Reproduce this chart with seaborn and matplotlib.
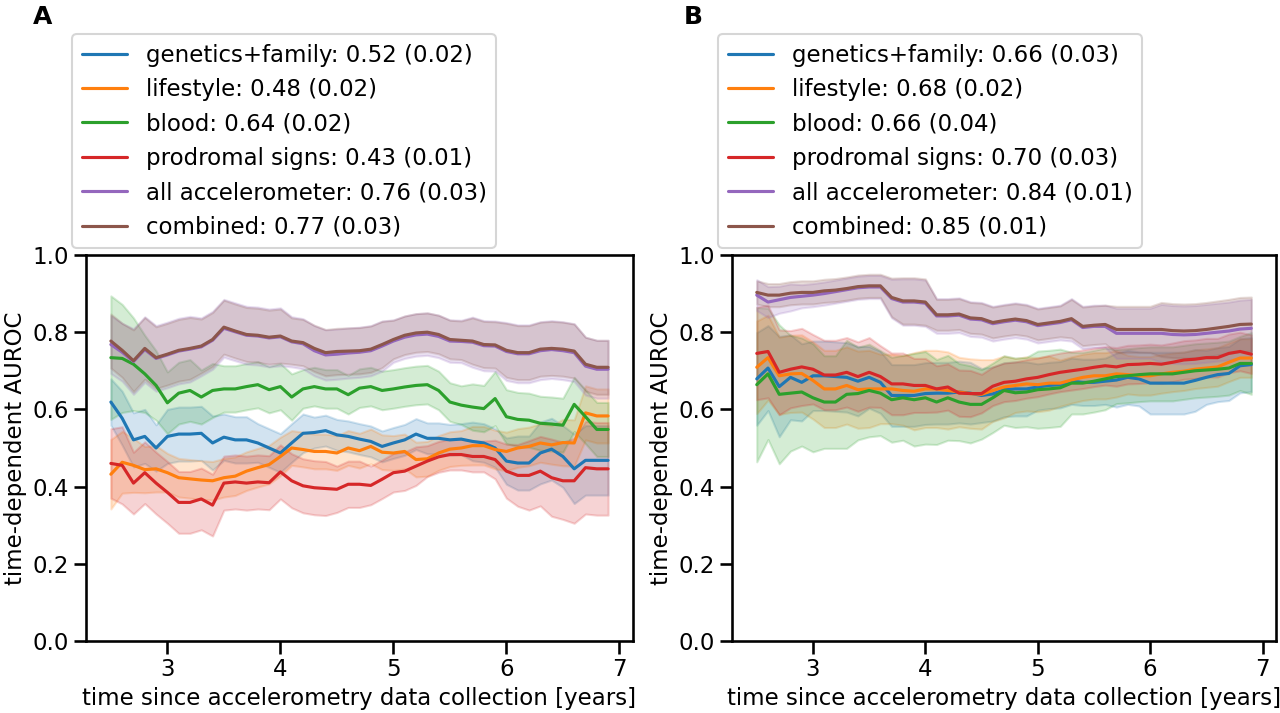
"""
Time-dependent AUROC curves for two prediction tasks (panels A and B)
"""

import numpy as np
import pandas as pd
import matplotlib
matplotlib.use("Agg")
import matplotlib.pyplot as plt
import seaborn as sns

# %% data

years = np.round(np.arange(2.5, 6.95, 0.1), 1)

names = ["genetics+family", "lifestyle", "blood", "prodromal signs",
         "all accelerometer", "combined"]
scores_a = ["0.52 (0.02)", "0.48 (0.02)", "0.64 (0.02)", "0.43 (0.01)",
            "0.76 (0.03)", "0.77 (0.03)"]
scores_b = ["0.66 (0.03)", "0.68 (0.02)", "0.66 (0.04)", "0.70 (0.03)",
            "0.84 (0.01)", "0.85 (0.01)"]

# panel A - mean curves
a_genetics = [0.619, 0.577, 0.521, 0.530, 0.500, 0.530, 0.536, 0.536, 0.538, 0.513,
              0.528, 0.521, 0.521, 0.513, 0.500, 0.487, 0.513, 0.538, 0.540, 0.545,
              0.534, 0.530, 0.523, 0.517, 0.504, 0.513, 0.521, 0.536, 0.525, 0.525,
              0.521, 0.523, 0.517, 0.513, 0.500, 0.466, 0.461, 0.461, 0.487, 0.497,
              0.478, 0.446, 0.468, 0.468, 0.468]
a_lifestyle = [0.432, 0.463, 0.455, 0.444, 0.446, 0.436, 0.423, 0.420, 0.417, 0.415,
               0.423, 0.427, 0.440, 0.449, 0.457, 0.478, 0.500, 0.496, 0.491, 0.491,
               0.487, 0.500, 0.493, 0.504, 0.489, 0.487, 0.491, 0.470, 0.472, 0.487,
               0.497, 0.500, 0.506, 0.506, 0.496, 0.491, 0.500, 0.504, 0.513, 0.508,
               0.514, 0.513, 0.591, 0.583, 0.583]
a_blood = [0.734, 0.732, 0.717, 0.692, 0.662, 0.617, 0.642, 0.649, 0.632, 0.649,
           0.653, 0.653, 0.659, 0.664, 0.651, 0.659, 0.632, 0.653, 0.659, 0.653,
           0.653, 0.638, 0.655, 0.659, 0.649, 0.653, 0.658, 0.662, 0.664, 0.649,
           0.619, 0.611, 0.606, 0.602, 0.628, 0.581, 0.574, 0.572, 0.564, 0.562,
           0.559, 0.613, 0.581, 0.548, 0.548]
a_prodromal = [0.460, 0.455, 0.409, 0.436, 0.409, 0.385, 0.359, 0.359, 0.368, 0.352,
               0.409, 0.412, 0.409, 0.412, 0.410, 0.438, 0.415, 0.402, 0.397, 0.395,
               0.393, 0.406, 0.406, 0.403, 0.419, 0.436, 0.440, 0.453, 0.466, 0.477,
               0.483, 0.483, 0.478, 0.478, 0.470, 0.440, 0.429, 0.429, 0.440, 0.423,
               0.415, 0.415, 0.449, 0.446, 0.446]
a_accel = [0.768, 0.748, 0.724, 0.755, 0.732, 0.741, 0.751, 0.756, 0.762, 0.779,
           0.810, 0.801, 0.792, 0.790, 0.785, 0.788, 0.775, 0.770, 0.752, 0.741,
           0.743, 0.746, 0.748, 0.752, 0.764, 0.777, 0.787, 0.793, 0.795, 0.789,
           0.777, 0.776, 0.774, 0.765, 0.764, 0.750, 0.744, 0.744, 0.752, 0.755,
           0.752, 0.747, 0.712, 0.704, 0.704]
a_combined = [0.777, 0.753, 0.726, 0.758, 0.734, 0.743, 0.753, 0.758, 0.764, 0.781,
              0.813, 0.803, 0.794, 0.792, 0.787, 0.790, 0.777, 0.773, 0.758, 0.747,
              0.750, 0.751, 0.752, 0.756, 0.768, 0.781, 0.792, 0.798, 0.800, 0.794,
              0.781, 0.779, 0.777, 0.768, 0.767, 0.753, 0.747, 0.747, 0.756, 0.758,
              0.756, 0.751, 0.717, 0.709, 0.709]

# panel A - half width of the shaded band
a_genetics_err = [0.06, 0.07, 0.07, 0.07, 0.06, 0.07, 0.07, 0.07, 0.07, 0.07,
                  0.06, 0.06, 0.06, 0.05, 0.05, 0.05, 0.05, 0.05, 0.04, 0.04,
                  0.04, 0.04, 0.04, 0.04, 0.04, 0.04, 0.04, 0.04, 0.04, 0.04,
                  0.04, 0.04, 0.05, 0.05, 0.05, 0.06, 0.07, 0.07, 0.08, 0.08,
                  0.08, 0.09, 0.09, 0.09, 0.09]
a_lifestyle_err = [0.09, 0.08, 0.07, 0.06, 0.06, 0.05, 0.05, 0.05, 0.05, 0.05,
                   0.05, 0.05, 0.05, 0.05, 0.05, 0.05, 0.045, 0.045, 0.045, 0.045,
                   0.045, 0.045, 0.045, 0.045, 0.045, 0.045, 0.045, 0.045, 0.045, 0.045,
                   0.045, 0.045, 0.05, 0.05, 0.05, 0.05, 0.05, 0.05, 0.05, 0.05,
                   0.06, 0.06, 0.07, 0.07, 0.07]
a_blood_err = [0.16, 0.14, 0.12, 0.10, 0.09, 0.08, 0.08, 0.08, 0.07, 0.07,
               0.06, 0.06, 0.06, 0.06, 0.06, 0.06, 0.06, 0.05, 0.05, 0.05,
               0.05, 0.05, 0.05, 0.05, 0.05, 0.05, 0.05, 0.05, 0.05, 0.05,
               0.05, 0.05, 0.06, 0.06, 0.07, 0.07, 0.07, 0.07, 0.07, 0.07,
               0.07, 0.07, 0.07, 0.07, 0.07]
a_prodromal_err = [0.09, 0.10, 0.08, 0.08, 0.08, 0.08, 0.08, 0.08, 0.08, 0.08,
                   0.07, 0.07, 0.07, 0.07, 0.07, 0.07, 0.07, 0.07, 0.07, 0.07,
                   0.06, 0.06, 0.06, 0.05, 0.05, 0.05, 0.05, 0.05, 0.04, 0.04,
                   0.04, 0.04, 0.04, 0.04, 0.05, 0.07, 0.08, 0.09, 0.09, 0.10,
                   0.10, 0.11, 0.12, 0.12, 0.12]
a_accel_err = [0.075, 0.075, 0.085, 0.085, 0.085, 0.085, 0.085, 0.085, 0.075, 0.075,
               0.075, 0.075, 0.075, 0.075, 0.075, 0.075, 0.065, 0.065, 0.065, 0.065,
               0.065, 0.065, 0.065, 0.065, 0.065, 0.055, 0.055, 0.055, 0.055, 0.055,
               0.055, 0.055, 0.065, 0.065, 0.065, 0.075, 0.075, 0.075, 0.075, 0.075,
               0.075, 0.075, 0.075, 0.075, 0.075]
a_combined_err = [0.07, 0.07, 0.08, 0.08, 0.08, 0.08, 0.08, 0.08, 0.07, 0.07,
                  0.07, 0.07, 0.07, 0.07, 0.07, 0.07, 0.06, 0.06, 0.06, 0.06,
                  0.06, 0.06, 0.06, 0.06, 0.06, 0.05, 0.05, 0.05, 0.05, 0.05,
                  0.05, 0.05, 0.06, 0.06, 0.06, 0.07, 0.07, 0.07, 0.07, 0.07,
                  0.07, 0.07, 0.07, 0.07, 0.07]

# panel B - mean curves
b_genetics = [0.679, 0.707, 0.659, 0.683, 0.670, 0.687, 0.687, 0.685, 0.683, 0.673,
              0.683, 0.670, 0.636, 0.636, 0.636, 0.641, 0.642, 0.642, 0.645, 0.642,
              0.636, 0.640, 0.651, 0.653, 0.653, 0.658, 0.662, 0.664, 0.673, 0.670,
              0.670, 0.673, 0.676, 0.683, 0.679, 0.668, 0.668, 0.668, 0.668, 0.675,
              0.683, 0.690, 0.693, 0.713, 0.716]
b_lifestyle = [0.709, 0.734, 0.687, 0.692, 0.693, 0.675, 0.653, 0.653, 0.662, 0.651,
               0.653, 0.653, 0.653, 0.649, 0.647, 0.653, 0.653, 0.649, 0.645, 0.641,
               0.639, 0.649, 0.658, 0.662, 0.666, 0.664, 0.668, 0.668, 0.676, 0.683,
               0.687, 0.687, 0.692, 0.690, 0.687, 0.687, 0.692, 0.696, 0.699, 0.704,
               0.707, 0.710, 0.722, 0.733, 0.733]
b_blood = [0.664, 0.692, 0.639, 0.642, 0.645, 0.630, 0.619, 0.619, 0.639, 0.641,
           0.649, 0.642, 0.625, 0.630, 0.625, 0.630, 0.619, 0.630, 0.619, 0.613,
           0.613, 0.630, 0.649, 0.643, 0.645, 0.651, 0.653, 0.656, 0.668, 0.668,
           0.673, 0.679, 0.685, 0.687, 0.690, 0.692, 0.692, 0.692, 0.696, 0.700,
           0.702, 0.704, 0.707, 0.719, 0.719]
b_prodromal = [0.745, 0.750, 0.696, 0.704, 0.710, 0.704, 0.689, 0.689, 0.696, 0.685,
               0.696, 0.685, 0.666, 0.666, 0.662, 0.662, 0.653, 0.658, 0.642, 0.641,
               0.641, 0.660, 0.670, 0.673, 0.679, 0.683, 0.690, 0.696, 0.700, 0.704,
               0.709, 0.713, 0.710, 0.716, 0.717, 0.719, 0.717, 0.722, 0.728, 0.730,
               0.734, 0.734, 0.745, 0.750, 0.743]
b_accel = [0.896, 0.878, 0.884, 0.890, 0.893, 0.896, 0.900, 0.905, 0.910, 0.915,
           0.917, 0.917, 0.887, 0.878, 0.878, 0.875, 0.842, 0.842, 0.844, 0.834,
           0.832, 0.822, 0.827, 0.831, 0.827, 0.817, 0.821, 0.825, 0.832, 0.812,
           0.815, 0.815, 0.797, 0.797, 0.797, 0.797, 0.797, 0.794, 0.793, 0.794,
           0.797, 0.800, 0.803, 0.808, 0.810]
b_combined = [0.903, 0.896, 0.896, 0.901, 0.903, 0.903, 0.907, 0.909, 0.913, 0.918,
              0.920, 0.920, 0.890, 0.881, 0.881, 0.878, 0.845, 0.845, 0.847, 0.837,
              0.835, 0.825, 0.830, 0.834, 0.830, 0.820, 0.824, 0.828, 0.835, 0.815,
              0.818, 0.820, 0.807, 0.807, 0.807, 0.807, 0.807, 0.804, 0.803, 0.804,
              0.807, 0.811, 0.815, 0.820, 0.821]

# panel B - half width of the shaded band
b_genetics_err = [0.12, 0.11, 0.13, 0.11, 0.10, 0.09, 0.09, 0.09, 0.09, 0.09,
                  0.08, 0.08, 0.08, 0.08, 0.08, 0.08, 0.08, 0.08, 0.08, 0.08,
                  0.07, 0.07, 0.07, 0.07, 0.07, 0.06, 0.06, 0.06, 0.06, 0.06,
                  0.06, 0.06, 0.07, 0.07, 0.07, 0.08, 0.08, 0.08, 0.08, 0.08,
                  0.07, 0.07, 0.07, 0.07, 0.07]
b_lifestyle_err = [0.12, 0.11, 0.10, 0.10, 0.10, 0.10, 0.10, 0.10, 0.10, 0.10,
                   0.10, 0.09, 0.09, 0.09, 0.10, 0.10, 0.10, 0.10, 0.09, 0.09,
                   0.09, 0.08, 0.08, 0.07, 0.07, 0.07, 0.07, 0.06, 0.06, 0.06,
                   0.06, 0.06, 0.06, 0.05, 0.05, 0.05, 0.05, 0.05, 0.05, 0.05,
                   0.05, 0.05, 0.05, 0.05, 0.05]
b_blood_err = [0.20, 0.17, 0.18, 0.15, 0.14, 0.14, 0.12, 0.12, 0.14, 0.12,
               0.12, 0.11, 0.11, 0.11, 0.12, 0.12, 0.11, 0.11, 0.10, 0.10,
               0.09, 0.09, 0.09, 0.09, 0.09, 0.10, 0.10, 0.10, 0.08, 0.08,
               0.08, 0.08, 0.07, 0.07, 0.07, 0.07, 0.07, 0.07, 0.07, 0.07,
               0.07, 0.07, 0.07, 0.07, 0.08]
b_prodromal_err = [0.12, 0.12, 0.11, 0.10, 0.10, 0.09, 0.09, 0.09, 0.09, 0.09,
                   0.09, 0.08, 0.08, 0.08, 0.07, 0.07, 0.06, 0.06, 0.06, 0.06,
                   0.05, 0.05, 0.05, 0.05, 0.05, 0.05, 0.05, 0.05, 0.05, 0.05,
                   0.05, 0.05, 0.05, 0.05, 0.05, 0.05, 0.05, 0.05, 0.05, 0.05,
                   0.05, 0.05, 0.05, 0.05, 0.05]
b_accel_err = [0.04, 0.04, 0.035, 0.035, 0.03, 0.03, 0.03, 0.03, 0.03, 0.03,
               0.03, 0.03, 0.05, 0.06, 0.06, 0.06, 0.045, 0.045, 0.045, 0.045,
               0.045, 0.045, 0.045, 0.045, 0.045, 0.045, 0.045, 0.045, 0.055, 0.055,
               0.055, 0.055, 0.065, 0.065, 0.065, 0.065, 0.075, 0.075, 0.075, 0.075,
               0.075, 0.075, 0.075, 0.075, 0.075]
b_combined_err = [0.03, 0.03, 0.03, 0.03, 0.03, 0.03, 0.03, 0.03, 0.03, 0.03,
                  0.03, 0.03, 0.05, 0.06, 0.06, 0.06, 0.04, 0.04, 0.04, 0.04,
                  0.04, 0.04, 0.04, 0.04, 0.04, 0.04, 0.04, 0.04, 0.05, 0.05,
                  0.05, 0.05, 0.06, 0.06, 0.06, 0.06, 0.07, 0.07, 0.07, 0.07,
                  0.07, 0.07, 0.07, 0.07, 0.07]

panel_a = [a_genetics, a_lifestyle, a_blood, a_prodromal, a_accel, a_combined]
panel_a_err = [a_genetics_err, a_lifestyle_err, a_blood_err, a_prodromal_err,
               a_accel_err, a_combined_err]
panel_b = [b_genetics, b_lifestyle, b_blood, b_prodromal, b_accel, b_combined]
panel_b_err = [b_genetics_err, b_lifestyle_err, b_blood_err, b_prodromal_err,
               b_accel_err, b_combined_err]


# %% tidy frame: lower / mean / upper per time point, so seaborn draws
#    the median as the line and the full range as the band

def tidy(curves, errs, scores):
    rows = []
    for name, score, mid, err in zip(names, scores, curves, errs):
        label = f"{name}: {score}"
        for t, m, e in zip(years, mid, err):
            for v in (m - e, m, m + e):
                rows.append((t, v, label))
    return pd.DataFrame(rows, columns=["time", "auroc", "model"])


df_a = tidy(panel_a, panel_a_err, scores_a)
df_b = tidy(panel_b, panel_b_err, scores_b)

# %% plot

sns.set_theme(style="ticks", context="talk")
plt.rcParams["font.family"] = ["DejaVu Sans"]
plt.rcParams.update({"text.color": "black", "axes.labelcolor": "black",
                     "xtick.color": "black", "ytick.color": "black",
                     "axes.edgecolor": "black"})

fig = plt.figure(figsize=(12.8, 7.13), dpi=100)
ax_a = fig.add_axes([0.0672, 0.101, 0.4273, 0.5414])
ax_b = fig.add_axes([0.5719, 0.101, 0.4250, 0.5414])

for ax, df, tag, tx in [(ax_a, df_a, "A", 0.026), (ax_b, df_b, "B", 0.534)]:
    sns.lineplot(data=df, x="time", y="auroc", hue="model",
                 estimator="median", errorbar=("pi", 100),
                 palette="tab10", linewidth=2.25, ax=ax)
    ax.set_ylim(0, 1)
    ax.set_yticks([0.0, 0.2, 0.4, 0.6, 0.8, 1.0])
    ax.set_yticklabels(["0.0", "0.2", "0.4", "0.6", "0.8", "1.0"])
    ax.set_xticks([3, 4, 5, 6, 7])
    ax.tick_params(labelsize=16.5)
    ax.set_xlabel("time since accelerometry data collection [years]", fontsize=16.5)
    ax.set_ylabel("time-dependent AUROC", fontsize=16.5)
    ax.legend(loc="lower left", bbox_to_anchor=(-0.025, 1.018),
              borderaxespad=0, fontsize=16.5, title=None)
    fig.text(tx, 0.967, tag, fontsize=18, fontweight="bold", va="baseline")

fig.savefig("out.png", dpi=100)
